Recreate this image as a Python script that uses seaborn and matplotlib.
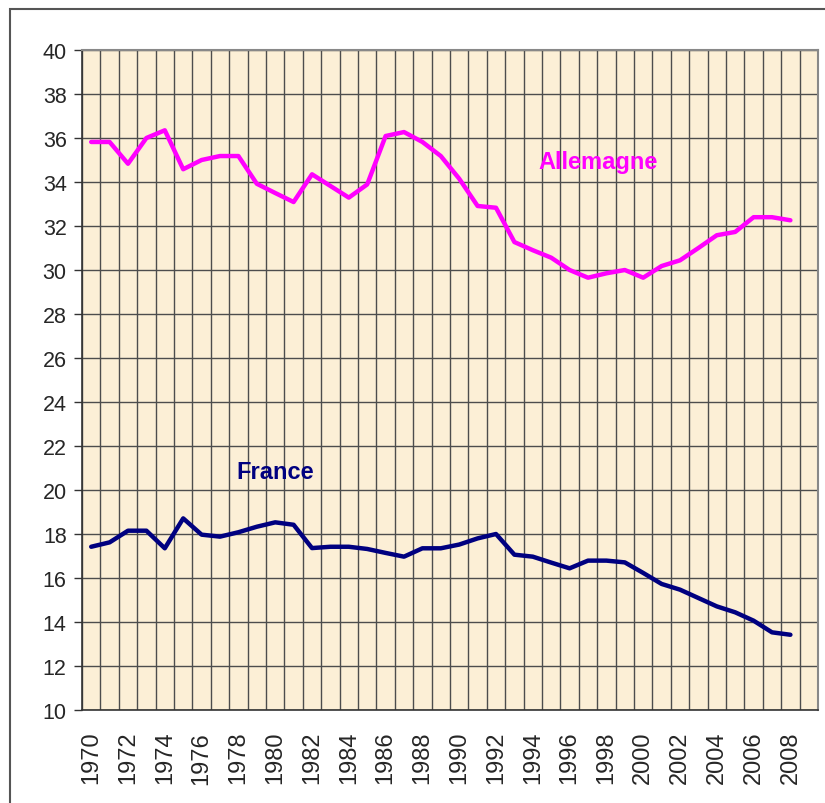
import matplotlib
matplotlib.use("Agg")
from matplotlib import pyplot as plt
from matplotlib.patches import Rectangle
import numpy as np
import pandas as pd
import seaborn as sns

years = list(range(1970, 2009))
allemagne = [35.82, 35.82, 34.83, 36.0, 36.35, 34.58, 35.0, 35.18, 35.18, 33.92,
             33.5, 33.09, 34.35, 33.82, 33.29, 33.89, 36.09, 36.27, 35.82, 35.18,
             34.15, 32.91, 32.83, 31.27, 30.9, 30.56, 30.0, 29.65, 29.85, 30.0,
             29.65, 30.18, 30.44, 31.0, 31.58, 31.73, 32.4, 32.4, 32.26]
france = [17.42, 17.62, 18.15, 18.15, 17.35, 18.71, 17.97, 17.88, 18.08, 18.33,
          18.53, 18.42, 17.36, 17.42, 17.42, 17.32, 17.14, 16.97, 17.35, 17.35,
          17.52, 17.8, 18.0, 17.06, 16.97, 16.7, 16.44, 16.79, 16.79, 16.71,
          16.23, 15.73, 15.47, 15.09, 14.71, 14.44, 14.06, 13.53, 13.42]
year_labels = [str(y) for y in range(1970, 2009, 2)]

df = pd.DataFrame({"year": years * 2,
                   "value": allemagne + france,
                   "pays": ["Allemagne"] * len(years) + ["France"] * len(years)})

sns.set_style("white")
plt.rcParams['font.family'] = ['Liberation Sans', 'DejaVu Sans']

fig = plt.figure(figsize=(8.25, 8.04), dpi=100)
ax = fig.add_axes([82/825, 1 - 711/804, (818-82)/825, (711-51)/804])
ax.set_facecolor("#fcefd6")

sns.lineplot(data=df, x="year", y="value", hue="pays",
             palette={"Allemagne": "#ff00ff", "France": "#000080"},
             linewidth=3.2, legend=False, ax=ax, zorder=3)

ax.set_xlim(1969.5, 2009.5)
ax.set_ylim(10, 40)
ax.set_yticks(np.arange(10, 41, 2))
ax.set_xticks(range(1970, 2009, 2))
ax.set_xticklabels(year_labels, rotation=90)
ax.set_xticks(np.arange(1969.5, 2010, 1), minor=True)
ax.tick_params(axis="x", which="major", length=0, labelsize=17, pad=15)
ax.tick_params(axis="x", which="minor", length=5.5, width=1, color="#333333", direction="out")
ax.tick_params(axis="y", length=6, width=1, color="#333333", labelsize=15.5, pad=5, left=True)
ax.grid(True, which="minor", axis="x", color="#4d4d4d", linewidth=1)
ax.grid(True, which="major", axis="y", color="#4d4d4d", linewidth=1)
ax.set_axisbelow(True)
ax.set_xlabel("")
ax.set_ylabel("")

for side in ["top", "right"]:
    ax.spines[side].set_color("#888888")
    ax.spines[side].set_linewidth(1.5)
for side in ["left", "bottom"]:
    ax.spines[side].set_color("#333333")
    ax.spines[side].set_linewidth(1.2)

ax.text(1997.55, 34.95, "Allemagne", color="#ff00ff", fontsize=17,
        fontweight="bold", ha="center", va="center")
ax.text(1980.0, 20.86, "France", color="#000080", fontsize=17,
        fontweight="bold", ha="center", va="center")

# outer frame
fig.patches.append(Rectangle((10/825, -0.05), 1.1, 1 - 10/804 + 0.05,
                             transform=fig.transFigure, fill=False,
                             edgecolor="#555555", linewidth=1.5))

fig.savefig("out.png", dpi=100)
